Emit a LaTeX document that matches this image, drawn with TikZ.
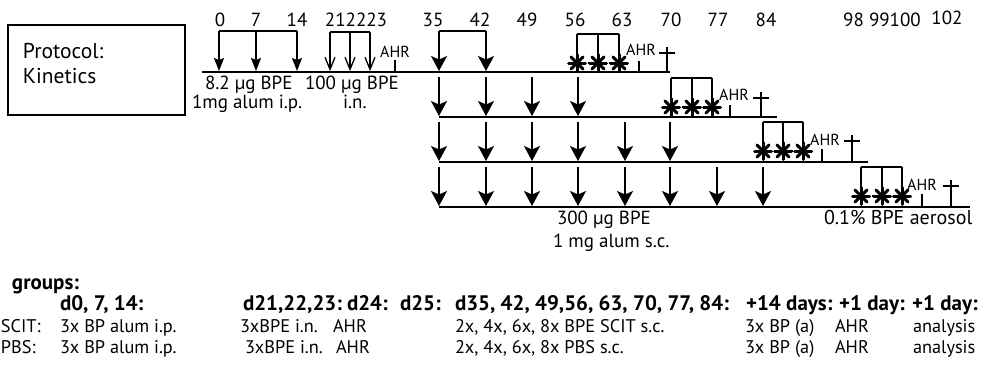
\documentclass[tikz,border=0pt]{standalone}
\usepackage{fontspec}
\setmainfont{PT Sans}
\usetikzlibrary{arrows.meta}
\begin{document}
\begin{tikzpicture}[x=1pt,y=-1pt,
  every node/.style={inner sep=0pt, outer sep=0pt},
  ln/.style={line width=1.8pt},
  shaft/.style={line width=1.5pt},
  bigarr/.style={shaft, -{Stealth[length=15pt,width=16pt,inset=3.5pt]}},
  smarr/.style={shaft, -{Stealth[length=13pt,width=10pt,inset=2pt]}},
  openarr/.style={line width=1.3pt, -{Straight Barb[length=12pt,width=10pt]}},
  num/.style={font=\fontsize{19}{19}\selectfont, anchor=base},
  lbl/.style={font=\fontsize{19}{19}\selectfont, anchor=base west},
  ahr/.style={font=\fontsize{16}{16}\selectfont},
  tb/.style={font=\fontsize{18.3}{19}\selectfont, anchor=base west},
  tbh/.style={font=\fontsize{21}{21}\selectfont\bfseries, anchor=base west},
  astline/.style={line width=3pt, line cap=round},
  ast/.pic={\foreach \a in {0,45,90,135} \draw[astline] (\a:8.5pt) -- (\a+180:8.5pt);}
]
\useasboundingbox (0,0) rectangle (994,367);

% protocol box
\node[draw, line width=1.5pt, minimum width=177pt, minimum height=90pt, anchor=north west] (box) at (8,25) {};
\node[anchor=base west, font=\fontsize{21.5}{22}\selectfont] (prot) at (23,58) {Protocol:};
\node[anchor=base west, font=\fontsize{21.5}{22}\selectfont] (kin) at (23,83) {Kinetics};

% day numbers
\foreach \d/\x in {0/220,7/256,14/297,212223/356,35/433,42/480,49/527,56/575,63/622,70/671,77/718,84/766}
  \node[num] (n\d) at (\x,26) {\d};
\node[num] (n98) at (882,26) {98 99100};
\node[num] (n102) at (947,24) {102};

% baselines
\coordinate (r1a) at (202,72); \coordinate (r1b) at (670,72);
\coordinate (r2a) at (439,117); \coordinate (r2b) at (777,117);
\coordinate (r3a) at (439,162); \coordinate (r3b) at (868,162);
\coordinate (r4a) at (439,207); \coordinate (r4b) at (970,207);
\foreach \r in {1,2,3,4} \draw[ln] (r\r a) -- (r\r b);

% i.p. immunisation arrows
\coordinate (ipt1) at (219,31); \coordinate (ipt3) at (297,31);
\draw[shaft] (ipt1) -- (ipt3);
\foreach \x [count=\i] in {219,256,297} {
  \coordinate (ipa\i) at (\x,31); \coordinate (ipb\i) at (\x,71);
  \draw[smarr] (ipa\i) -- (ipb\i);
}
% i.n. arrows
\coordinate (int1) at (330,32); \coordinate (int3) at (370,32);
\draw[shaft] (int1) -- (int3);
\foreach \x [count=\i] in {330,350,370} {
  \coordinate (ina\i) at (\x,32); \coordinate (inb\i) at (\x,71);
  \draw[openarr] (ina\i) -- (inb\i);
}
\node[ahr] (ahr0) at (395,52) {AHR};
\coordinate (tk0a) at (395,60); \coordinate (tk0b) at (395,72);
\draw[shaft] (tk0a) -- (tk0b);

% SCIT arrows
\coordinate (sc1) at (439,31); \coordinate (sc2) at (486,31);
\draw[shaft] (sc1) -- (sc2);
\foreach \x [count=\i] in {439,486} {
  \coordinate (s1a\i) at (\x,31); \coordinate (s1b\i) at (\x,71);
  \draw[bigarr] (s1a\i) -- (s1b\i);
}
\foreach \x [count=\i] in {439,486,532,578} {
  \coordinate (s2a\i) at (\x,77); \coordinate (s2b\i) at (\x,116);
  \draw[bigarr] (s2a\i) -- (s2b\i);
}
\foreach \x [count=\i] in {439,486,532,578,625,670} {
  \coordinate (s3a\i) at (\x,122); \coordinate (s3b\i) at (\x,161);
  \draw[bigarr] (s3a\i) -- (s3b\i);
}
\foreach \x [count=\i] in {439,486,532,578,625,670,717,763} {
  \coordinate (s4a\i) at (\x,167); \coordinate (s4b\i) at (\x,206);
  \draw[bigarr] (s4a\i) -- (s4b\i);
}

% aerosol challenges, AHR, sacrifice
\foreach \r/\xa/\xb/\xc/\top/\cy/\base/\tk/\cr/\crt/\ax/\ay in {
  1/577/598/619/34/63/72/639/667/47/641/50,
  2/671/692/712/78/107/117/730/761/92/734/95,
  3/763/783/803/122/151/162/822/852/135/825/140,
  4/861/882/902/167/196/207/922/951/180/922/185} {
  \coordinate (br\r a) at (\xa,\top); \coordinate (br\r c) at (\xc,\top);
  \draw[shaft] (br\r a) -- (br\r c);
  \foreach \x [count=\i] in {\xa,\xb,\xc} {
    \coordinate (st\r t\i) at (\x,\top); \coordinate (st\r c\i) at (\x,\cy);
    \draw[shaft] (st\r t\i) -- (st\r c\i);
    \pic at (st\r c\i) {ast};
  }
  \draw[line width=1.4pt, dash pattern=on 2pt off 1.5pt] (st\r c1) -- (st\r c3);
  \node[ahr] (ahr\r) at (\ax,\ay) {AHR};
  \coordinate (tk\r a) at (\tk,\cy-2); \coordinate (tk\r b) at (\tk,\base);
  \draw[shaft] (tk\r a) -- (tk\r b);
  \coordinate (cr\r a) at (\cr,\crt); \coordinate (cr\r b) at (\cr,\base);
  \draw[shaft] (cr\r a) -- (cr\r b);
  \coordinate (cr\r l) at (\cr-8,\crt+6); \coordinate (cr\r r) at (\cr+8,\crt+6);
  \draw[shaft] (cr\r l) -- (cr\r r);
}

% labels
\node[lbl] (l1) at (205,89) {8.2 µg BPE};
\node[lbl] (l2) at (305,89) {100 µg BPE};
\node[lbl] (l3) at (192,108) {1mg alum i.p.};
\node[lbl] (l4) at (343,108) {i.n.};
\node[lbl] (l5) at (557,224) {300 µg BPE};
\node[lbl] (l6) at (553,247) {1 mg alum s.c.};
\node[lbl, font=\fontsize{20}{20}\selectfont] (l7) at (824,224) {0.1\% BPE aerosol};

% table
\node[tbh] (g) at (12,289) {groups:};
\node[tbh] (h1) at (60,310) {d0, 7, 14:};
\node[tbh] (h2) at (243,310) {d21,22,23:};
\node[tbh] (h3) at (347,310) {d24:};
\node[tbh] (h4) at (400,310) {d25:};
\node[tbh] (h5) at (455,310) {d35, 42, 49,56, 63, 70, 77, 84:};
\node[tbh] (h6) at (746,310) {+14 days:};
\node[tbh] (h7) at (839,310) {+1 day:};
\node[tbh] (h8) at (912,310) {+1 day:};

\node[tb] (a0) at (1,332) {SCIT:};
\node[tb] (a1) at (60,332) {3x BP alum i.p.};
\node[tb] (a2) at (240,332) {3xBPE i.n.};
\node[tb] (a3) at (333,332) {AHR};
\node[tb] (a5) at (455,332) {2x, 4x, 6x, 8x BPE SCIT s.c.};
\node[tb] (a6) at (745,332) {3x BP (a)};
\node[tb] (a7) at (835,332) {AHR};
\node[tb] (a8) at (913,332) {analysis};

\node[tb] (b0) at (1,353) {PBS:};
\node[tb] (b1) at (60,353) {3x BP alum i.p.};
\node[tb] (b2) at (245,353) {3xBPE i.n.};
\node[tb] (b3) at (336,353) {AHR};
\node[tb] (b5) at (455,353) {2x, 4x, 6x, 8x PBS s.c.};
\node[tb] (b6) at (745,353) {3x BP (a)};
\node[tb] (b7) at (835,353) {AHR};
\node[tb] (b8) at (913,353) {analysis};
\end{tikzpicture}
\end{document}
